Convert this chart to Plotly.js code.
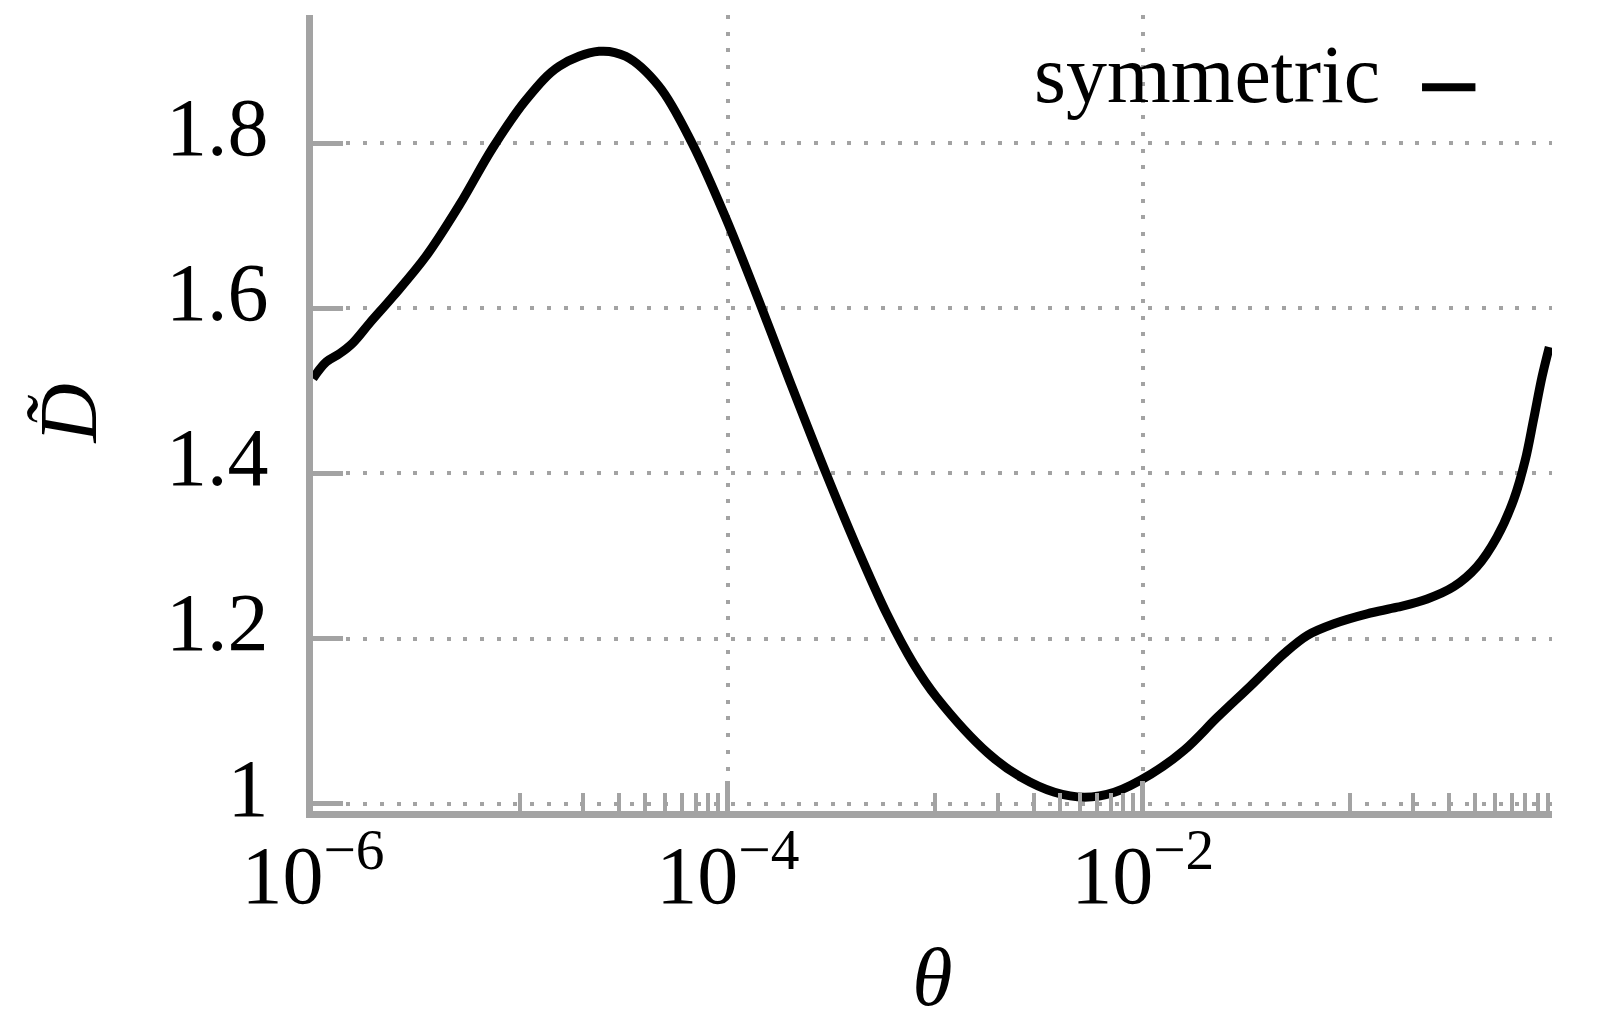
<!DOCTYPE html>
<html>
<head>
<meta charset="utf-8">
<script src="https://cdn.plot.ly/plotly-3.0.1.min.js"></script>
<style>
  html, body { margin: 0; padding: 0; background: #ffffff; }
  #chart { width: 1600px; height: 1031px; }
</style>
</head>
<body>
<div id="chart"></div>
<script>
// theta values
const theta = [
    1.000e-6, 1.159e-6, 1.343e-6, 1.556e-6, 1.875e-6, 2.427e-6, 3.508e-6, 5.082e-6,
    7.345e-6, 1.062e-5, 1.538e-5, 2.393e-5, 3.214e-5, 4.645e-5, 6.714e-5, 9.705e-5,
    1.406e-4, 2.000e-4, 2.965e-4, 4.178e-4, 5.834e-4, 7.834e-4, 1.014e-3, 1.799e-3,
    2.600e-3, 3.758e-3, 5.236e-3, 7.295e-3, 1.096e-2, 1.585e-2, 2.296e-2, 3.319e-2,
    4.808e-2, 6.223e-2, 8.356e-2, 0.1208, 0.1687, 0.2350, 0.3162, 0.4083,
    0.5105, 0.6138, 0.6982, 0.7656, 0.8414, 0.9120
];

// D tilde, symmetric case
const dSymmetric = [
    1.515, 1.535, 1.545, 1.558, 1.582, 1.614, 1.663, 1.725,
    1.794, 1.852, 1.893, 1.911, 1.905, 1.869, 1.800, 1.711,
    1.610, 1.510, 1.401, 1.311, 1.230, 1.170, 1.129, 1.061,
    1.032, 1.014, 1.008, 1.014, 1.036, 1.065, 1.105, 1.143,
    1.182, 1.204, 1.218, 1.230, 1.238, 1.248, 1.263, 1.287,
    1.323, 1.368, 1.416, 1.465, 1.517, 1.553
];

const xTickVals = [1e-6, 1e-4, 1e-2];
const xTickText = ['10<sup>\u22126</sup>', '10<sup>\u22124</sup>', '10<sup>\u22122</sup>'];
const yTickVals = [1, 1.2, 1.4, 1.6, 1.8];
const yTickText = ['1', '1.2', '1.4', '1.6', '1.8'];
// pgfplots only put minor ticks in the decades between labelled ones
const minorDecades = [1e-5, 1e-3, 1e-1];

const seriesName = 'symmetric';

const GRAY = '#a3a3a3';
const FONT = 'Liberation Serif, Times New Roman, serif';
const FS = 82;

const minorVals = [];
minorDecades.forEach(dec => {
    for (let k = 1; k <= 9; k++) minorVals.push(k * dec);
});

const trace = {
    x: theta,
    y: dSymmetric,
    type: 'scatter',
    mode: 'lines',
    line: { color: '#000000', width: 9, shape: 'spline', smoothing: 1 },
    showlegend: false,
    hoverinfo: 'none'
};

const layout = {
    width: 1600,
    height: 1031,
    paper_bgcolor: '#ffffff',
    plot_bgcolor: '#ffffff',
    margin: { l: 313, r: 48, t: 15, b: 220 },
    font: { family: FONT, size: FS, color: '#000000' },
    showlegend: false,
    xaxis: {
        type: 'log',
        range: [-6, -0.027],
        tickmode: 'array',
        tickvals: xTickVals,
        ticktext: xTickText,
        ticks: 'inside',
        ticklen: 30,
        tickwidth: 5,
        tickcolor: GRAY,
        showline: true,
        linecolor: GRAY,
        linewidth: 7,
        showgrid: true,
        gridcolor: GRAY,
        gridwidth: 4,
        griddash: '4px,12.7px',
        zeroline: false,
        tickfont: { family: FONT, size: FS, color: '#000000' },
        ticklabelstandoff: -13,
        minor: {
            tickmode: 'array',
            tickvals: minorVals,
            ticks: 'inside',
            ticklen: 18,
            tickwidth: 4,
            tickcolor: GRAY,
            showgrid: false
        },
        title: {
            text: '<i>\u03b8</i>',
            font: { family: FONT, size: FS, color: '#000000' },
            standoff: 30
        }
    },
    yaxis: {
        range: [0.9913, 1.955],
        tickmode: 'array',
        tickvals: yTickVals,
        ticktext: yTickText,
        ticks: 'inside',
        ticklen: 30,
        tickwidth: 5,
        tickcolor: GRAY,
        showline: true,
        linecolor: GRAY,
        linewidth: 7,
        showgrid: true,
        gridcolor: GRAY,
        gridwidth: 4,
        griddash: '4px,12.7px',
        zeroline: false,
        tickfont: { family: FONT, size: FS, color: '#000000' },
        ticklabelstandoff: 21,
        ticklabelshift: -17,
        title: {
            text: '<i>D\u0303</i>',
            font: { family: FONT, size: FS, color: '#000000' },
            standoff: 45
        }
    },
    annotations: [{
        xref: 'paper', yref: 'paper',
        x: 0.863, y: 0.925,
        xanchor: 'right', yanchor: 'middle',
        text: seriesName,
        showarrow: false,
        font: { family: FONT, size: FS, color: '#000000' }
    }],
    shapes: [{
        type: 'line',
        xref: 'paper', yref: 'paper',
        x0: 0.8951, x1: 0.9382, y0: 0.9092, y1: 0.9092,
        line: { color: '#000000', width: 8 }
    }]
};

Plotly.newPlot('chart', [trace], layout, { staticPlot: true });
</script>
</body>
</html>
